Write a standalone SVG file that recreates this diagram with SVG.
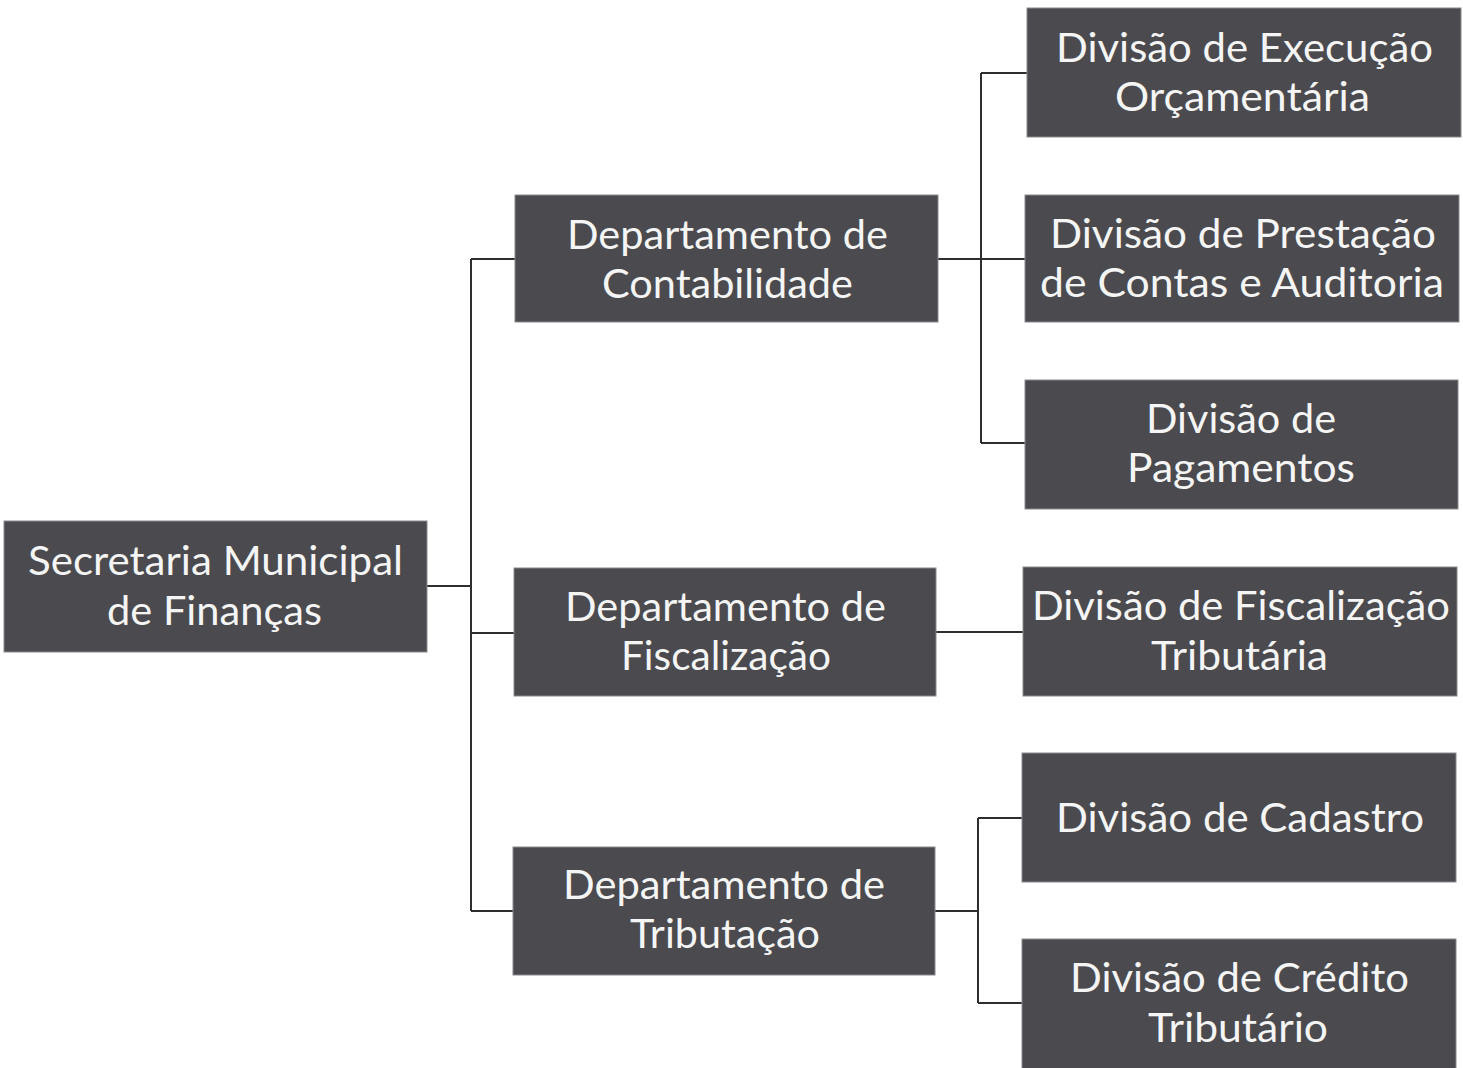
<svg xmlns="http://www.w3.org/2000/svg" width="1463" height="1068" viewBox="0 0 1463 1068">
<style>
.box{fill:#4a4a4f;stroke:#8a8a8e;stroke-width:1}
.t{font-family:Lato,"Liberation Sans",sans-serif;font-size:40px;fill:#f5f5f5;text-anchor:middle}
.c{fill:none;stroke:#2e2e2e;stroke-width:2}
</style>
<rect width="1463" height="1068" fill="#ffffff"/>
<g id="connectors">
<path class="c" d="M427 586H471M471 259V911M471 259H515M471 633H514M471 911H513"/>
<path class="c" d="M938 259H1025M981 73V443M981 73H1027M981 443H1025"/>
<path class="c" d="M936 632H1023"/>
<path class="c" d="M935 911H978M978 818V1003M978 818H1022M978 1003H1022"/>
</g>
<g id="secretaria">
<rect class="box" x="4" y="521" width="423" height="131"/>
<text class="t" x="215.5" y="575" textLength="375" lengthAdjust="spacingAndGlyphs">Secretaria Municipal</text>
<text class="t" x="214.5" y="625" textLength="215" lengthAdjust="spacingAndGlyphs">de Finanças</text>
</g>
<g id="dep-contabilidade">
<rect class="box" x="515" y="195" width="423" height="127"/>
<text class="t" x="727.5" y="249" textLength="321" lengthAdjust="spacingAndGlyphs">Departamento de</text>
<text class="t" x="727.5" y="298" textLength="251" lengthAdjust="spacingAndGlyphs">Contabilidade</text>
</g>
<g id="dep-fiscalizacao">
<rect class="box" x="514" y="568" width="422" height="128"/>
<text class="t" x="725.5" y="621" textLength="321" lengthAdjust="spacingAndGlyphs">Departamento de</text>
<text class="t" x="726" y="670" textLength="210" lengthAdjust="spacingAndGlyphs">Fiscalização</text>
</g>
<g id="dep-tributacao">
<rect class="box" x="513" y="847" width="422" height="128"/>
<text class="t" x="724" y="899" textLength="322" lengthAdjust="spacingAndGlyphs">Departamento de</text>
<text class="t" x="725" y="948" textLength="190" lengthAdjust="spacingAndGlyphs">Tributação</text>
</g>
<g id="div-execucao">
<rect class="box" x="1027" y="8" width="434" height="129"/>
<text class="t" x="1244.5" y="62" textLength="377" lengthAdjust="spacingAndGlyphs">Divisão de Execução</text>
<text class="t" x="1242.5" y="111" textLength="255" lengthAdjust="spacingAndGlyphs">Orçamentária</text>
</g>
<g id="div-prestacao">
<rect class="box" x="1025" y="195" width="434" height="127"/>
<text class="t" x="1243" y="248" textLength="386" lengthAdjust="spacingAndGlyphs">Divisão de Prestação</text>
<text class="t" x="1242" y="297" textLength="404" lengthAdjust="spacingAndGlyphs">de Contas e Auditoria</text>
</g>
<g id="div-pagamentos">
<rect class="box" x="1025" y="380" width="433" height="129"/>
<text class="t" x="1241" y="433" textLength="190" lengthAdjust="spacingAndGlyphs">Divisão de</text>
<text class="t" x="1241" y="482" textLength="228" lengthAdjust="spacingAndGlyphs">Pagamentos</text>
</g>
<g id="div-fiscalizacao-tributaria">
<rect class="box" x="1023" y="567" width="434" height="129"/>
<text class="t" x="1241" y="620" textLength="418" lengthAdjust="spacingAndGlyphs">Divisão de Fiscalização</text>
<text class="t" x="1239.5" y="670" textLength="177" lengthAdjust="spacingAndGlyphs">Tributária</text>
</g>
<g id="div-cadastro">
<rect class="box" x="1022" y="753" width="434" height="129"/>
<text class="t" x="1240" y="832" textLength="368" lengthAdjust="spacingAndGlyphs">Divisão de Cadastro</text>
</g>
<g id="div-credito">
<rect class="box" x="1022" y="939" width="434" height="135"/>
<text class="t" x="1239.5" y="992" textLength="339" lengthAdjust="spacingAndGlyphs">Divisão de Crédito</text>
<text class="t" x="1238" y="1042" textLength="180" lengthAdjust="spacingAndGlyphs">Tributário</text>
</g>
</svg>
